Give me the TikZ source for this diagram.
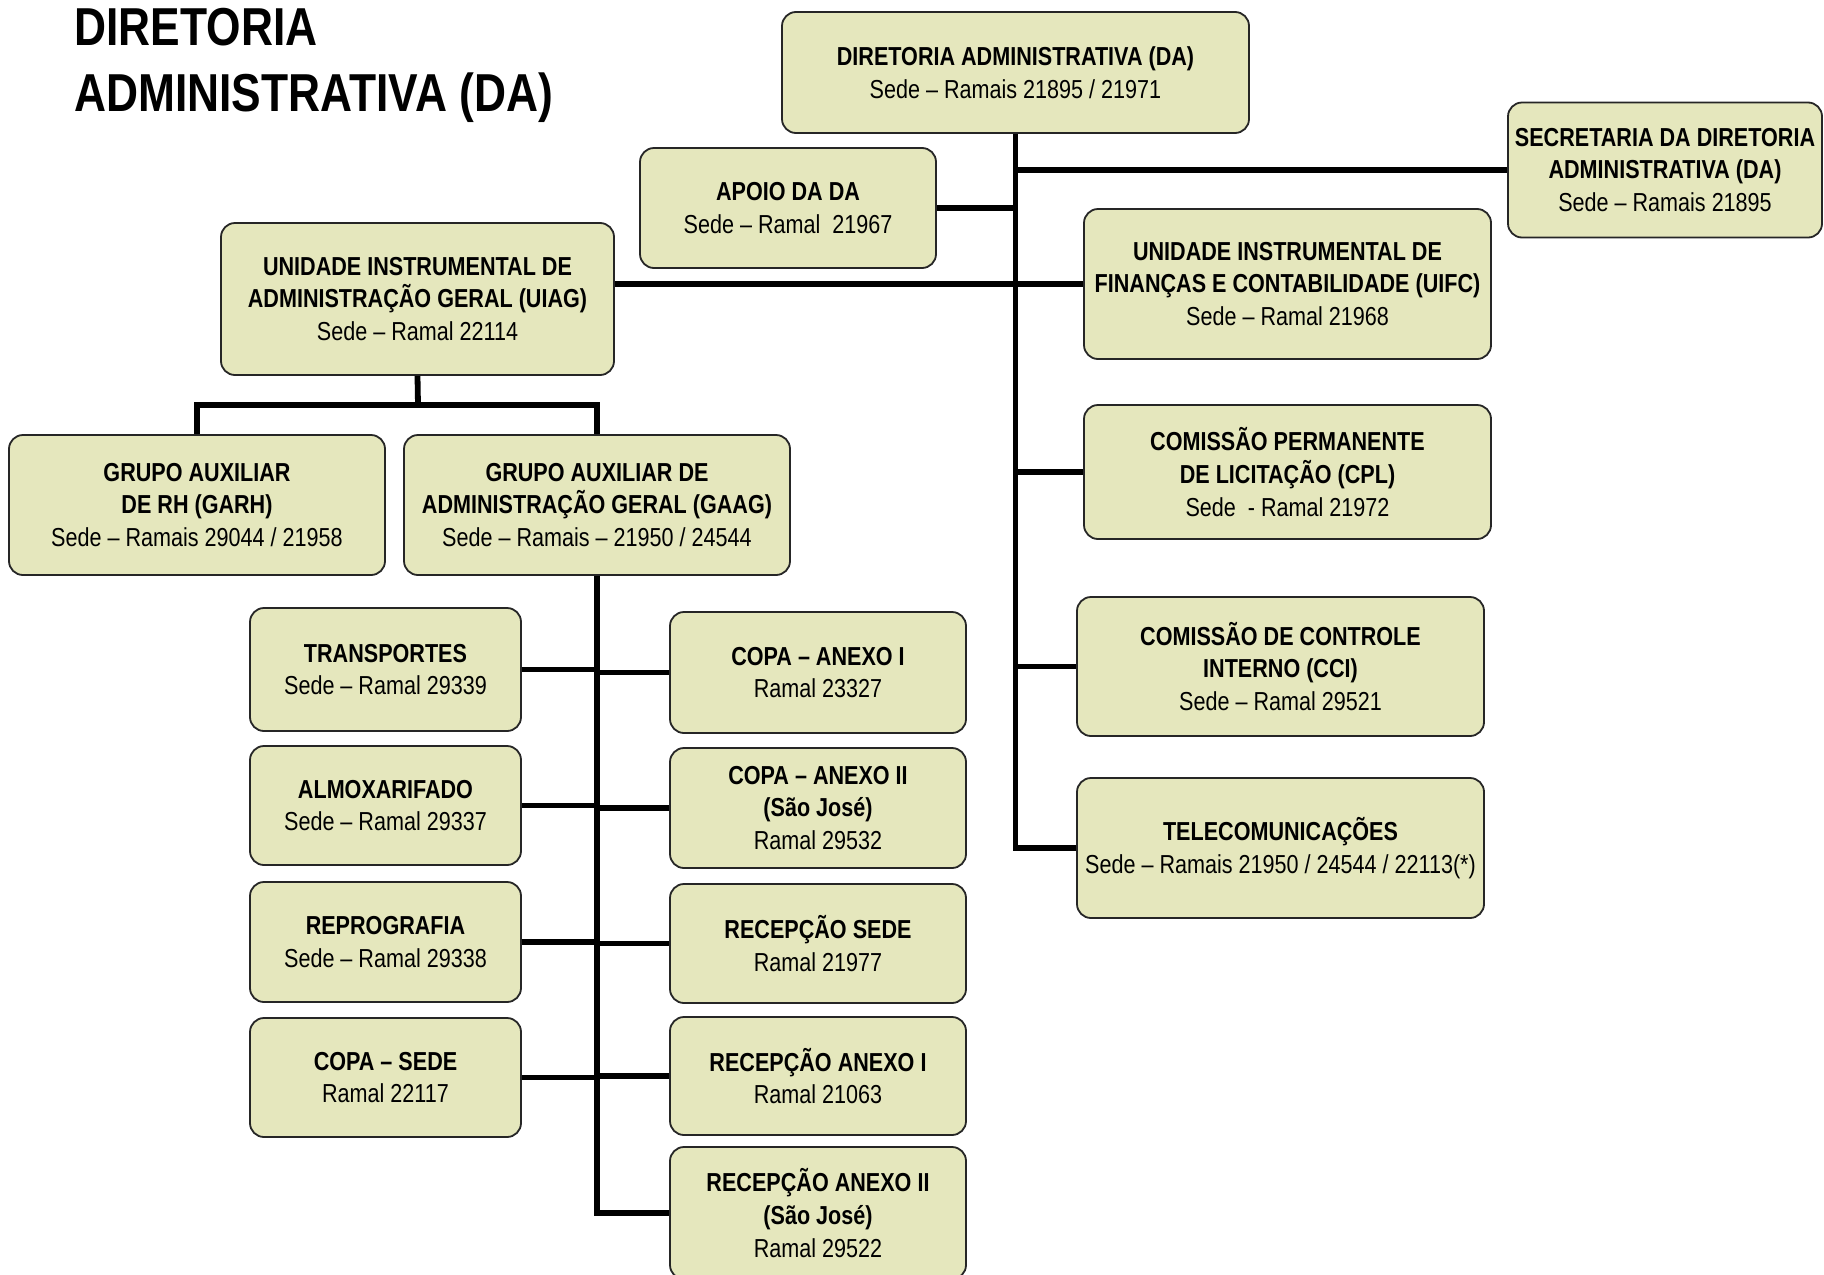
\documentclass[tikz,border=0pt]{standalone}
\usepackage{fontspec}
\setmainfont{Liberation Sans}[FakeStretch=0.83]
\usepackage{tikz}
\usetikzlibrary{positioning, calc}

\definecolor{boxfill}{RGB}{229,231,189}

\tikzset{
    unit/.style={draw=black!85, line width=0.9pt, fill=boxfill, rounded corners=7pt,
        align=center, inner sep=0pt, font={\fontsize{13}{16.3}\selectfont}},
    size/.style 2 args={minimum width=#1, minimum height=#2},
    link/.style={line width=2.9pt, black, line join=miter}
}

\begin{document}
\begin{tikzpicture}[x=0.5pt, y=-0.5pt]
    \useasboundingbox (0,0) rectangle (1824,1274);

    % title
    \node[anchor=base west, inner sep=0, font={\fontsize{26.7}{32}\selectfont\bfseries}] (title1) at (74,46) {DIRETORIA};
    \node[anchor=base west, inner sep=0, font={\fontsize{26.7}{32}\selectfont\bfseries}] (title2) at (74,111) {ADMINISTRATIVA (DA)};

    % top level
    \node[unit, size={233.5pt}{60.5pt}] (da) at (1015.5,72.5)
        {\textbf{DIRETORIA ADMINISTRATIVA (DA)}\\Sede – Ramais 21895 / 21971};
    \node[unit, size={157pt}{67.5pt}] (sec) at (1665,170)
        {\textbf{SECRETARIA DA DIRETORIA}\\\textbf{ADMINISTRATIVA (DA)}\\Sede – Ramais 21895};
    \node[unit, size={148pt}{60pt}] (apoio) at (788,208)
        {\textbf{APOIO DA DA}\\Sede – Ramal\ \ 21967};
    \node[unit, size={203.5pt}{75pt}] (uifc) at (1287.5,284)
        {\textbf{UNIDADE INSTRUMENTAL DE}\\\textbf{FINANÇAS E CONTABILIDADE (UIFC)}\\Sede – Ramal 21968};
    \node[unit, size={196.5pt}{76pt}] (uiag) at (417.5,299)
        {\textbf{UNIDADE INSTRUMENTAL DE}\\\textbf{ADMINISTRAÇÃO GERAL (UIAG)}\\Sede – Ramal 22114};
    \node[unit, size={203.5pt}{67pt}] (cpl) at (1287.5,472)
        {\textbf{COMISSÃO PERMANENTE}\\\textbf{DE LICITAÇÃO (CPL)}\\Sede\ \ - Ramal 21972};
    \node[unit, size={203.5pt}{69.5pt}] (cci) at (1280.5,666.5)
        {\textbf{COMISSÃO DE CONTROLE}\\\textbf{INTERNO (CCI)}\\Sede – Ramal 29521};
    \node[unit, size={203.5pt}{70pt}] (tele) at (1280.5,848)
        {\textbf{TELECOMUNICAÇÕES}\\Sede – Ramais 21950 / 24544 / 22113(*)};

    % groups under UIAG
    \node[unit, size={188pt}{70pt}] (garh) at (197,505)
        {\textbf{GRUPO AUXILIAR}\\\textbf{DE RH (GARH)}\\Sede – Ramais 29044 / 21958};
    \node[unit, size={193pt}{70pt}] (gaag) at (597,505)
        {\textbf{GRUPO AUXILIAR DE}\\\textbf{ADMINISTRAÇÃO GERAL (GAAG)}\\Sede – Ramais – 21950 / 24544};

    % sectors under GAAG, left column
    \node[unit, size={135.5pt}{61.5pt}] (transp) at (385.5,669.5)
        {\textbf{TRANSPORTES}\\Sede – Ramal 29339};
    \node[unit, size={135.5pt}{59.5pt}] (almox) at (385.5,805.5)
        {\textbf{ALMOXARIFADO}\\Sede – Ramal 29337};
    \node[unit, size={135.5pt}{60pt}] (repro) at (385.5,942)
        {\textbf{REPROGRAFIA}\\Sede – Ramal 29338};
    \node[unit, size={135.5pt}{59.5pt}] (copasede) at (385.5,1077.5)
        {\textbf{COPA – SEDE}\\Ramal 22117};

    % sectors under GAAG, right column
    \node[unit, size={148pt}{60.5pt}] (copa1) at (818,672.5)
        {\textbf{COPA – ANEXO I}\\Ramal 23327};
    \node[unit, size={148pt}{60pt}] (copa2) at (818,808)
        {\textbf{COPA – ANEXO II}\\\textbf{(São José)}\\Ramal 29532};
    \node[unit, size={148pt}{59.5pt}] (recsede) at (818,943.5)
        {\textbf{RECEPÇÃO SEDE}\\Ramal 21977};
    \node[unit, size={148pt}{59pt}] (rec1) at (818,1076)
        {\textbf{RECEPÇÃO ANEXO I}\\Ramal 21063};
    \node[unit, size={148pt}{66pt}] (rec2) at (818,1213)
        {\textbf{RECEPÇÃO ANEXO II}\\\textbf{(São José)}\\Ramal 29522};

    % main trunk
    \draw[link] (da.south) -- (da.south |- tele.west) -- (tele.west);
    \foreach \n in {sec, cpl, cci}
    {
        \draw[link] (da.south |- \n.west) -- (\n.west);
    }
    \draw[link] (apoio.east) -- (da.south |- apoio.east);
    \draw[link] (uiag.east |- uifc.west) -- (uifc.west);

    % UIAG branch
    \coordinate (bus) at (418,405);
    \draw[link] (uiag.south) -- (bus);
    \draw[link] (garh.north) -- (garh.north |- bus) -- (gaag.north |- bus) -- (gaag.north);

    % GAAG branch
    \draw[link] (gaag.south) -- (gaag.south |- rec2.west) -- (rec2.west);
    \foreach \n in {transp, almox, repro, copasede}
    {
        \draw[link] (\n.east) -- (gaag.south |- \n.east);
    }
    \foreach \n in {copa1, copa2, recsede, rec1}
    {
        \draw[link] (gaag.south |- \n.west) -- (\n.west);
    }
\end{tikzpicture}
\end{document}
